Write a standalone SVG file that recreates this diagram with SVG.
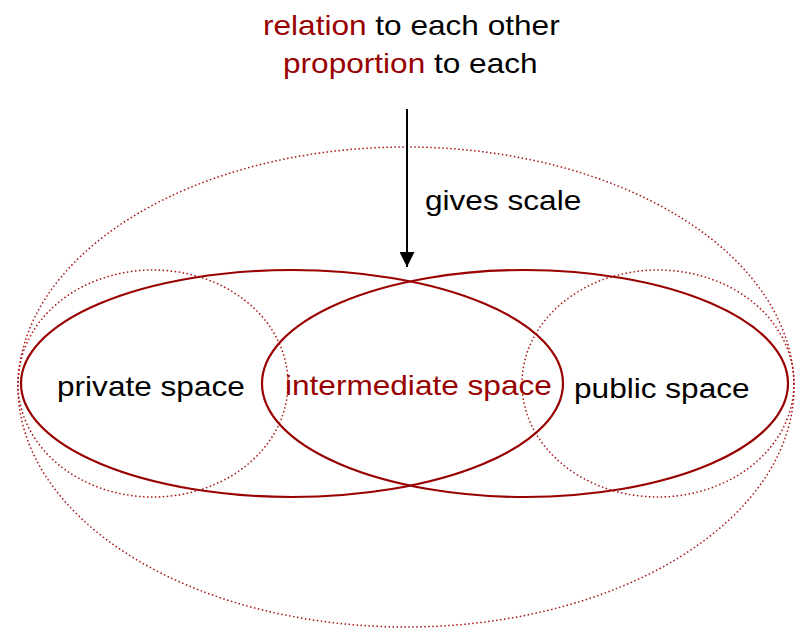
<svg xmlns="http://www.w3.org/2000/svg" width="796" height="628" viewBox="0 0 796 628">
<style>
.t{font-family:"Liberation Sans",Arial,sans-serif;font-size:27px;fill:#000}
.r{fill:#990000}
.solid{fill:none;stroke:#990000;stroke-width:2.2}
.dot{fill:none;stroke:#aa1111;stroke-width:1.5;stroke-dasharray:1.5 2.5}
</style>
<defs>
<marker id="ah" viewBox="0 0 10 10" refX="10" refY="5" markerWidth="15" markerHeight="15" markerUnits="userSpaceOnUse" orient="auto">
<path d="M0,0 L10,5 L0,10 Z" fill="#000"/>
</marker>
</defs>
<rect width="796" height="628" fill="#fff"/>
<g id="outer"><ellipse class="dot" cx="406" cy="387" rx="388" ry="240"/></g>
<g id="private-dotted"><ellipse class="dot" cx="153" cy="383.5" rx="135" ry="113.5"/></g>
<g id="public-dotted"><ellipse class="dot" cx="658" cy="383.5" rx="136" ry="113.5"/></g>
<g id="left-ellipse"><ellipse class="solid" cx="292" cy="383.5" rx="271" ry="113.5"/></g>
<g id="right-ellipse"><ellipse class="solid" cx="525" cy="383.5" rx="263" ry="113.5"/></g>
<g id="connectors">
<line x1="407" y1="109" x2="407" y2="267" stroke="#000" stroke-width="2" marker-end="url(#ah)"/>
</g>
<g id="title">
<text class="t" transform="translate(263,35) scale(1.17,1)"><tspan class="r">relation</tspan> to each other</text>
<text class="t" transform="translate(283,72.5) scale(1.17,1)"><tspan class="r">proportion</tspan> to each</text>
</g>
<g id="label-gives"><text class="t" transform="translate(425,210) scale(1.17,1)">gives scale</text></g>
<g id="private"><text class="t" transform="translate(57,395.5) scale(1.17,1)">private space</text></g>
<g id="intermediate"><text class="t r" transform="translate(285,395) scale(1.17,1)">intermediate space</text></g>
<g id="public"><text class="t" transform="translate(574,398) scale(1.17,1)">public space</text></g>
</svg>
